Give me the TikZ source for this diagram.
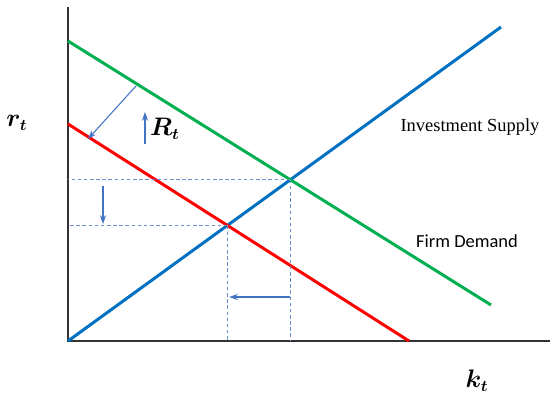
\documentclass[tikz,border=0pt]{standalone}
\usepackage{fontspec}
\usepackage{amsmath,bm}
\setmainfont{Liberation Serif}
\newfontfamily\calfont{Carlito}
\usetikzlibrary{arrows.meta, intersections}

\definecolor{supplyblue}{RGB}{0,112,192}
\definecolor{demandgreen}{RGB}{0,176,80}
\definecolor{shiftblue}{RGB}{68,114,196}

\begin{document}
\begin{tikzpicture}[
    x=0.02cm,
    y=-0.02cm,
    >={Stealth[length=5pt, width=3.5pt]},
    axis/.style={draw=black!80, line width=0.9pt},
    curve/.style={line width=1.7pt},
    guide/.style={draw=shiftblue!80, line width=0.5pt, dash pattern=on 2pt off 1.5pt},
    shiftarrow/.style={->, draw=shiftblue, line width=0.6pt},
    every node/.style={font=\fontsize{10.5}{12}\selectfont}
]
\useasboundingbox (0,0) rectangle (550,394);

%---------------- Axes ----------------
\coordinate (O) at (68,341);
\coordinate (Ytop) at (68,7);
\coordinate (Xend) at (550,341);
\draw[axis] (Ytop) -- (O) -- (Xend);

%---------------- Curves ----------------
\coordinate (S0) at (68,341);
\coordinate (S1) at (501,27);
\coordinate (D0) at (68,41);
\coordinate (D1) at (491,305);
\coordinate (N0) at (68,124);
\coordinate (N1) at (409,341);
\draw[curve, supplyblue, name path=supply] (S0) -- (S1);
\draw[curve, demandgreen, name path=demand] (D0) -- (D1);
\draw[curve, red, name path=newdemand] (N0) -- (N1);

\path[name intersections={of=supply and demand, by=E0}];
\path[name intersections={of=supply and newdemand, by=E1}];

%---------------- Guides ----------------
\draw[guide] (E0) -- (O |- E0);
\draw[guide] (E0) -- (E0 |- O);
\draw[guide] (E1) -- (O |- E1);
\draw[guide] (E1) -- (E1 |- O);

%---------------- Shift arrows ----------------
\coordinate (A0) at (136,86);
\coordinate (A1) at (88,139);
\draw[shiftarrow] (A0) -- (A1);

\coordinate (U0) at (145,144);
\coordinate (U1) at (145,112);
\draw[shiftarrow] (U0) -- (U1);

\coordinate (V0) at (103,186);
\coordinate (V1) at (103,224);
\draw[shiftarrow] (V0) -- (V1);

\coordinate (Lrow) at (0,297);
\coordinate (L0) at (E0 |- Lrow);
\coordinate (L1) at ([xshift=1pt]E1 |- Lrow);
\draw[shiftarrow] (L0) -- (L1);

%---------------- Labels ----------------
\node (rlab) at (17,123) {\fontsize{13.5}{14}\selectfont$\bm{r_t}$};
\node (Rlab) at (165,129) {\fontsize{13.5}{14}\selectfont$\bm{R_t}$};
\node (klab) at (477,381) {\fontsize{13.5}{14}\selectfont$\bm{k_t}$};
\node (slab) at (470,127) {Investment Supply};
\node (dlab) at (467,241) {\calfont Firm Demand};
\end{tikzpicture}
\end{document}
